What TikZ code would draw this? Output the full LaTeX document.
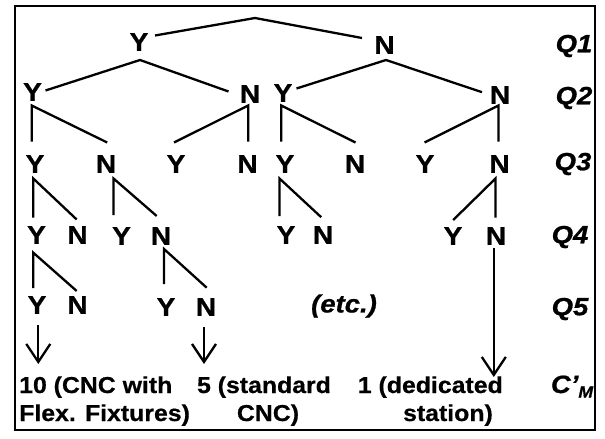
\documentclass[tikz,border=0pt]{standalone}
\usepackage{fontspec}
\setmainfont{Liberation Sans}
\newfontfamily\treefont[FakeStretch=1.1,FakeBold=0.8]{Liberation Sans}
\newfontfamily\botfont[FakeStretch=1.08,FakeBold=0.6]{Liberation Sans}
\usetikzlibrary{calc,arrows.meta}
\begin{document}
\begin{tikzpicture}[x=1pt,y=-1pt,
  yn/.style={font=\treefont\fontsize{25.5}{30}\selectfont\bfseries, inner sep=0pt},
  qlab/.style={font=\treefont\fontsize{25}{30}\selectfont\bfseries\itshape, inner sep=0pt},
  edge/.style={line width=2.3pt},
  arr/.style={line width=2.3pt,-{Straight Barb[length=18pt,width=24pt]}},
  bot/.style={font=\botfont\fontsize{23}{29}\selectfont\bfseries, inner sep=0pt}]
\useasboundingbox (0,0) rectangle (605,439);
\fill[white] (0,0) rectangle (605,439);
\draw[line width=2pt] (15,6) rectangle (595,430);

% Q1
\node[yn] (y1) at (139,42) {Y};
\node[yn] (n1) at (384.5,45) {N};
% Q2
\node[yn] (y2a) at (32.5,92) {Y};
\node[yn] (n2a) at (250,94) {N};
\node[yn] (y2b) at (283,93) {Y};
\node[yn] (n2b) at (500,95) {N};
% Q3
\node[yn] (y3a) at (35,164) {Y};
\node[yn] (n3a) at (106,164) {N};
\node[yn] (y3b) at (176,164) {Y};
\node[yn] (n3b) at (247.5,164) {N};
\node[yn] (y3c) at (285,164) {Y};
\node[yn] (n3c) at (355,164) {N};
\node[yn] (y3d) at (425,164) {Y};
\node[yn] (n3d) at (499.5,164) {N};
% Q4
\node[yn] (y4a) at (36.5,235) {Y};
\node[yn] (n4a) at (77.5,235) {N};
\node[yn] (y4b) at (121.5,236) {Y};
\node[yn] (n4b) at (161,236) {N};
\node[yn] (y4c) at (286,235) {Y};
\node[yn] (n4c) at (323,235) {N};
\node[yn] (y4d) at (453,236) {Y};
\node[yn] (n4d) at (496,236) {N};
% Q5
\node[yn] (y5a) at (37,305) {Y};
\node[yn] (n5a) at (77.5,305) {N};
\node[yn] (y5b) at (166,307) {Y};
\node[yn] (n5b) at (206,307) {N};
\node[qlab] (etc) at (344,306) {(etc.)};

% question labels
\node[qlab] (q1) at (574,46) {Q1};
\node[qlab] (q2) at (574,98) {Q2};
\node[qlab] (q3) at (573,164) {Q3};
\node[qlab] (q4) at (570,237) {Q4};
\node[qlab] (q5) at (570,309) {Q5};
\node[qlab, anchor=base] (cm) at (572,393) {C’\raisebox{-4.5pt}{\fontsize{16}{16}\selectfont M}};

% bottom texts
\node[bot, anchor=base west] (t1a) at (19,393) {10 (CNC with};
\node[bot, anchor=base west] (t1b) at (19,421) {Flex. Fixtures)};
\node[bot, anchor=base] (t2a) at (264,393) {5 (standard};
\node[bot, anchor=base] (t2b) at (268,421) {CNC)};
\node[bot, anchor=base east] (t3a) at (503,393) {1 (dedicated};
\node[bot, anchor=base east] (t3b) at (493,421) {station)};

% Q1 top
\coordinate (apex) at (255,18);
\draw[edge] ($(y1)+(16,-6.5)$) -- (apex) -- ($(n1)+(-22.5,-7)$);
% Q1 -> Q2
\coordinate (fy1) at ($(y1)+(1,18)$);
\draw[edge] ($(y2a)+(13,-1.5)$) -- (fy1) -- ($(n2a)+(-21.5,-2.5)$);
\coordinate (fn1) at ($(n1)+(1.5,15)$);
\draw[edge] ($(y2b)+(13.5,-4.5)$) -- (fn1) -- ($(n2b)+(-18,-2.8)$);
% Q2 -> Q3
\coordinate (fy2a) at ($(y2a)+(-0.8,13.5)$);
\draw[edge] ($(fy2a |- y3a)+(0,-22.5)$) -- (fy2a) -- ($(n3a)+(1.2,-21.5)$);
\coordinate (fn2a) at ($(n2a)+(-1.8,11.5)$);
\draw[edge] ($(fn2a |- n3b)+(0,-22.5)$) -- (fn2a) -- ($(y3b)+(-2,-21.5)$);
\coordinate (fy2b) at ($(y2b)+(-1.8,12.5)$);
\draw[edge] ($(fy2b |- y3c)+(0,-22.5)$) -- (fy2b) -- ($(n3c)+(0.5,-21.5)$);
\coordinate (fn2b) at ($(n2b)+(-1.5,10.5)$);
\draw[edge] ($(fn2b |- n3d)+(0,-22.5)$) -- (fn2b) -- ($(y3d)+(-0.5,-21.5)$);
% Q3 -> Q4
\coordinate (fy3a) at ($(y3a)+(-1.7,14.5)$);
\draw[edge] ($(fy3a |- y4a)+(0,-17.5)$) -- (fy3a) -- ($(n4a)+(-0.8,-15.5)$);
\coordinate (fn3a) at ($(n3a)+(7.5,14.5)$);
\draw[edge] ($(fn3a |- y4b)+(0,-21)$) -- (fn3a) -- ($(n4b)+(-4.3,-20)$);
\coordinate (fy3c) at ($(y3c)+(-5.5,14.5)$);
\draw[edge] ($(fy3c |- y4c)+(0,-19)$) -- (fy3c) -- ($(n4c)+(-1.8,-17.8)$);
\coordinate (fn3d) at ($(n3d)+(-4,14.5)$);
\draw[edge] ($(fn3d |- n4d)+(0,-18.3)$) -- (fn3d) -- ($(y4d)+(0.2,-16)$);
% Q4 -> Q5
\coordinate (fy4a) at ($(y4a)+(-3.2,17.7)$);
\draw[edge] ($(fy4a |- y5a)+(0,-17)$) -- (fy4a) -- ($(n5a)+(-0.8,-14)$);
\coordinate (fn4b) at ($(n4b)+(3,13)$);
\draw[edge] ($(fn4b |- y5b)+(0,-23)$) -- (fn4b) -- ($(n5b)+(0.7,-19.3)$);

% arrows to outcomes
\draw[arr] ($(y5a)+(1.3,20)$) -- ($(y5a)+(1.3,59)$);
\draw[arr] ($(n5b)+(-2,20)$) -- ($(n5b)+(-2,57)$);
\draw[arr] ($(n4d)+(-2.2,11.7)$) -- ($(n4d)+(-2.2,141)$);
\end{tikzpicture}
\end{document}
